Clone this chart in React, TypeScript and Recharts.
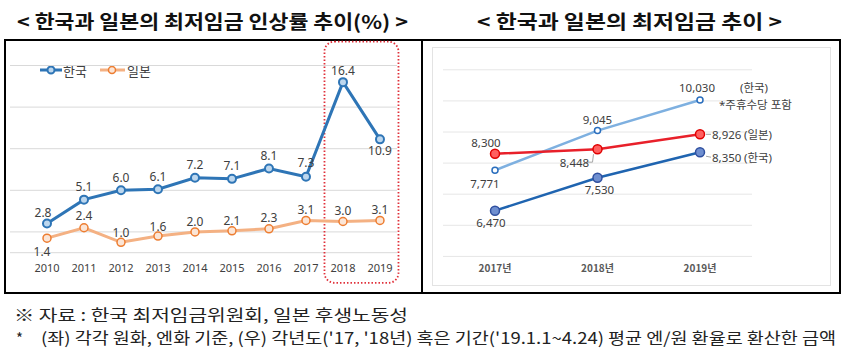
import React from 'react';
import {
  LineChart,
  Line,
  XAxis,
  YAxis,
  CartesianGrid,
  LabelList,
  ReferenceArea,
} from 'recharts';

// left chart: 인상률 (%)
const YEARS = [2010, 2011, 2012, 2013, 2014, 2015, 2016, 2017, 2018, 2019];
const KOREA_RATE = [2.8, 5.1, 6.0, 6.1, 7.2, 7.1, 8.1, 7.3, 16.4, 10.9];
const JAPAN_RATE = [1.4, 2.4, 1.0, 1.6, 2.0, 2.1, 2.3, 3.1, 3.0, 3.1];
const RATE_TICKS = [0, 2, 4, 6, 8, 10, 12, 14, 16, 18];

// right chart: 최저임금 (원)
const WAGE_YEARS = ['2017년', '2018년', '2019년'];
const KOREA_WAGE_HOLIDAY = [7771, 9045, 10030];
const JAPAN_WAGE = [8300, 8448, 8926];
const KOREA_WAGE = [6470, 7530, 8350];
const WAGE_TICKS = [5000, 6000, 7000, 8000, 9000, 10000];

const rateData = YEARS.map((year, i) => ({
  year,
  korea: KOREA_RATE[i],
  japan: JAPAN_RATE[i],
}));

const wageData = WAGE_YEARS.map((year, i) => ({
  year,
  holiday: KOREA_WAGE_HOLIDAY[i],
  japan: JAPAN_WAGE[i],
  korea: KOREA_WAGE[i],
}));

const KOREA_BLUE = '#2e75b6';
const JAPAN_ORANGE = '#ed7d31';
const JAPAN_LINE = '#f4b183';
const NUM_FONT = "'Noto Sans', 'Noto Sans CJK KR', sans-serif";
const KR_FONT = "'Noto Sans CJK KR', 'Noto Sans', sans-serif";

const pt = (p: any) => ({
  x: p.x ?? p.viewBox?.x ?? 0,
  y: p.y ?? p.viewBox?.y ?? 0,
});

// label offsets (dx, dy) per point
const KOREA_RATE_OFF: [number, number][] = [
  [-4, -11], [0, -13], [0, -13], [0, -13], [0, -13], [0, -13], [0, -13], [0, -14], [0, -12], [0, 11],
];
const JAPAN_RATE_OFF: [number, number][] = [
  [-5, 13], [0, -12], [0, -10], [0, -10], [0, -10], [0, -10], [0, -11], [0, -11], [0, -11], [0, -11],
];

const rateLabel = (offs: [number, number][]) => (props: any) => {
  const { x, y } = pt(props);
  const [dx, dy] = offs[props.index] || [0, -12];
  return (
    <text
      x={x + dx}
      y={y + dy}
      textAnchor="middle"
      dominantBaseline="central"
      fontSize={12}
      fontFamily={NUM_FONT}
      fill="#404040"
    >
      {Number(props.value).toFixed(1)}
    </text>
  );
};

const fmt = (v: any) => Number(v).toLocaleString('en-US');

const wageText = (x: number, y: number, s: string, anchor: string = 'middle') => (
  <text
    x={x}
    y={y}
    textAnchor={anchor as any}
    dominantBaseline="central"
    fontSize={11.5}
    fontFamily={NUM_FONT}
    fill="#404040"
  >
    {s}
  </text>
);

const holidayLabel = (props: any) => {
  const { x, y } = pt(props);
  const v = fmt(props.value);
  if (props.index === 0) return wageText(x - 10, y + 13, v);
  if (props.index === 1) return wageText(x, y - 11, v);
  return (
    <g>
      {wageText(x - 3, y - 12, v)}
      {wageText(x + 40, y - 12, '(한국)', 'start')}
      {wageText(x + 19, y + 5, '*주휴수당 포함', 'start')}
    </g>
  );
};

const japanWageLabel = (props: any) => {
  const { x, y } = pt(props);
  const v = fmt(props.value);
  if (props.index === 0) return wageText(x - 9, y - 11, v);
  if (props.index === 1)
    return (
      <g>
        <polyline
          points={`${x - 11},${y + 13} ${x - 5},${y + 13} ${x - 4},${y + 5}`}
          fill="none"
          stroke="#a6a6a6"
          strokeWidth={1}
        />
        {wageText(x - 23, y + 13, v)}
      </g>
    );
  return (
    <g>
      <line x1={x + 6} y1={y} x2={x + 11} y2={y} stroke="#a6a6a6" strokeWidth={1} />
      {wageText(x + 12, y, v, 'start')}
      {wageText(x + 44, y, '(일본)', 'start')}
    </g>
  );
};

const koreaWageLabel = (props: any) => {
  const { x, y } = pt(props);
  const v = fmt(props.value);
  if (props.index === 0) return wageText(x - 4, y + 12, v);
  if (props.index === 1) return wageText(x + 2, y + 12, v);
  return (
    <g>
      <line x1={x + 6} y1={y + 4} x2={x + 11} y2={y + 5} stroke="#a6a6a6" strokeWidth={1} />
      {wageText(x + 12, y + 5, v, 'start')}
      {wageText(x + 44, y + 5, '(한국)', 'start')}
    </g>
  );
};

const HighlightBox = (p: any) => (
  <rect
    x={p.x}
    y={p.y}
    width={p.width}
    height={p.height}
    rx={10}
    ry={10}
    fill="none"
    stroke="#e0303a"
    strokeWidth={1.8}
    strokeDasharray="1.5 2"
  />
);

const App = () => {
  return (
    <div style={{ position: 'absolute', left: 0, top: 0, width: 843, height: 355, background: '#fff' }}>
      <svg
        width={843}
        height={355}
        style={{ position: 'absolute', left: 0, top: 0 }}
      >
        <text x={17} y={29} textLength={391} lengthAdjust="spacingAndGlyphs" fontSize={19} fontWeight={700} fontFamily={KR_FONT} fill="#111">
          {'< 한국과 일본의 최저임금 인상률 추이(%) >'}
        </text>
        <text x={477} y={29} textLength={305} lengthAdjust="spacingAndGlyphs" fontSize={19} fontWeight={700} fontFamily={KR_FONT} fill="#111">
          {'< 한국과 일본의 최저임금 추이 >'}
        </text>

        {/* legend */}
        <line x1={40} y1={70} x2={62} y2={70} stroke={KOREA_BLUE} strokeWidth={3} />
        <circle cx={51} cy={70} r={3.5} fill="#bdd7ee" stroke={KOREA_BLUE} strokeWidth={2} />
        <text x={63} y={70} dominantBaseline="central" fontSize={13} fontFamily={KR_FONT} fill="#404040">한국</text>
        <line x1={100} y1={70} x2={125} y2={70} stroke={JAPAN_LINE} strokeWidth={3} />
        <circle cx={112} cy={70} r={3.5} fill="#fbe5d6" stroke={JAPAN_ORANGE} strokeWidth={1.5} />
        <text x={127} y={70} dominantBaseline="central" fontSize={13} fontFamily={KR_FONT} fill="#404040">일본</text>

        {/* frames */}
        <rect x={5} y={40} width={835} height={253} fill="none" stroke="#000" strokeWidth={2} />
        <line x1={422} y1={40} x2={422} y2={293} stroke="#000" strokeWidth={2} />
        <rect x={432.5} y={47.5} width={398} height={238} fill="none" stroke="#e3e3e3" strokeWidth={1} />

        {/* notes */}
        <text x={14} y={321} textLength={394} lengthAdjust="spacingAndGlyphs" fontSize={16} fontFamily={KR_FONT} fill="#222">
          ※ 자료 : 한국 최저임금위원회, 일본 후생노동성
        </text>
        <text x={16} y={344} fontSize={15} fontFamily={KR_FONT} fill="#222">*</text>
        <text x={41} y={344} textLength={795} lengthAdjust="spacingAndGlyphs" fontSize={16} fontFamily={KR_FONT} fill="#222">
          (좌) 각각 원화, 엔화 기준, (우) 각년도('17, '18년) 혹은 기간('19.1.1~4.24) 평균 엔/원 환율로 환산한 금액
        </text>
      </svg>

      <div style={{ position: 'absolute', left: 5, top: 40 }}>
        <LineChart
          width={417}
          height={253}
          data={rateData}
          margin={{ top: 25.5, right: 25, bottom: 10.3, left: 5 }}
        >
          <CartesianGrid vertical={false} stroke="#d9d9d9" />
          <XAxis
            dataKey="year"
            type="number"
            domain={[2009, 2019.46]}
            ticks={YEARS}
            axisLine={false}
            tickLine={false}
            tickMargin={5}
            height={30}
            tick={{ fontSize: 11, fill: '#404040', fontFamily: NUM_FONT }}
          />
          <YAxis hide domain={[0, 18]} ticks={RATE_TICKS} />
          <ReferenceArea
            x1={2017.5}
            x2={2019.5}
            y1={-2.9}
            y2={20.3}
            ifOverflow="visible"
            shape={HighlightBox}
          />
          <Line
            dataKey="japan"
            stroke={JAPAN_LINE}
            strokeWidth={3}
            dot={{ r: 4, fill: '#fbe5d6', stroke: JAPAN_ORANGE, strokeWidth: 1.5 }}
            isAnimationActive={false}
          >
            <LabelList dataKey="japan" content={rateLabel(JAPAN_RATE_OFF)} />
          </Line>
          <Line
            dataKey="korea"
            stroke={KOREA_BLUE}
            strokeWidth={3}
            dot={{ r: 4, fill: '#bdd7ee', stroke: KOREA_BLUE, strokeWidth: 2 }}
            isAnimationActive={false}
          >
            <LabelList dataKey="korea" content={rateLabel(KOREA_RATE_OFF)} />
          </Line>
        </LineChart>
      </div>

      <div style={{ position: 'absolute', left: 422, top: 40 }}>
        <LineChart
          width={418}
          height={253}
          data={wageData}
          margin={{ top: 29.8, right: 88, bottom: 6.6, left: 21 }}
        >
          <CartesianGrid vertical={false} stroke="#e6e6e6" />
          <XAxis
            dataKey="year"
            axisLine={false}
            tickLine={false}
            height={30}
            padding={{ left: 52, right: 52 }}
            tick={{ fontSize: 10, fill: '#595959', fontFamily: KR_FONT, fontWeight: 700 }}
          />
          <YAxis hide domain={[5000, 11000]} ticks={WAGE_TICKS} />
          <Line
            dataKey="holiday"
            stroke="#7eb0e0"
            strokeWidth={2.5}
            dot={{ r: 3, fill: '#fff', stroke: '#2a6ebd', strokeWidth: 1.5 }}
            isAnimationActive={false}
          >
            <LabelList dataKey="holiday" content={holidayLabel} />
          </Line>
          <Line
            dataKey="japan"
            stroke="#e8202a"
            strokeWidth={2.5}
            dot={{ r: 4.5, fill: '#ff6060', stroke: '#e00000', strokeWidth: 1.5 }}
            isAnimationActive={false}
          >
            <LabelList dataKey="japan" content={japanWageLabel} />
          </Line>
          <Line
            dataKey="korea"
            stroke="#1f64b0"
            strokeWidth={2.5}
            dot={{ r: 4.5, fill: '#6f8fd0', stroke: '#2f4f9f', strokeWidth: 1.5 }}
            isAnimationActive={false}
          >
            <LabelList dataKey="korea" content={koreaWageLabel} />
          </Line>
        </LineChart>
      </div>
    </div>
  );
};

export default App;
